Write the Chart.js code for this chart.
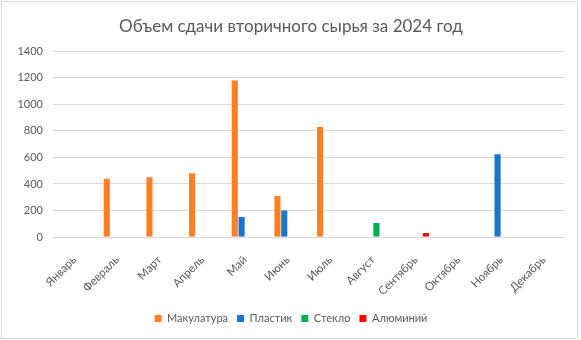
<!DOCTYPE html>
<html>
<head>
<meta charset="utf-8">
<script src="https://cdn.jsdelivr.net/npm/chart.js@4"></script>
<style>
  html, body { margin: 0; padding: 0; background: #fff; }
  #wrap { position: absolute; left: 1px; top: 1px; width: 575px; height: 336px; border: 1px solid #d9d9d9; }
  canvas { display: block; }
</style>
</head>
<body>
<div id="wrap"><canvas id="chart" width="575" height="336"></canvas></div>
<script>
const months = ["Январь", "Февраль", "Март", "Апрель", "Май", "Июнь", "Июль", "Август", "Сентябрь", "Октябрь", "Ноябрь", "Декабрь"];
const paper    = [null, 440, 450, 480, 1180, 310, 830, null, null, null, null, null];
const plastic  = [null, null, null, null, 150, 200, null, null, null, null, 625, null];
const glass    = [null, null, null, null, null, null, null, 105, null, null, null, null];
const aluminum = [null, null, null, null, null, null, null, null, 30, null, null, null];
const yTicks = [0, 200, 400, 600, 800, 1000, 1200, 1400];

const textColor = "#595959";
const fontFamily = "Lato, 'Open Sans', sans-serif";

const ctx = document.getElementById("chart");
const chart = new Chart(ctx, {
    type: "bar",
    data: {
        labels: months,
        datasets: [
            { label: "Макулатура", data: paper, backgroundColor: "#ff7f27" },
            { label: "Пластик", data: plastic, backgroundColor: "#1874cd" },
            { label: "Стекло", data: glass, backgroundColor: "#00b050" },
            { label: "Алюминий", data: aluminum, backgroundColor: "#ff0000" }
        ]
    },
    options: {
        responsive: false,
        animation: false,
        layout: { padding: { left: 15, right: 12, top: 4, bottom: 4 } },
        datasets: {
            bar: { categoryPercentage: 0.64, barPercentage: 0.9 }
        },
        plugins: {
            title: {
                display: true,
                text: "Объем сдачи вторичного сырья за 2024 год",
                color: textColor,
                font: { family: fontFamily, size: 17, weight: "normal" },
                padding: { top: 10, bottom: 15 }
            },
            legend: {
                position: "bottom",
                labels: {
                    color: textColor,
                    font: { family: fontFamily, size: 11 },
                    boxWidth: 7,
                    boxHeight: 7,
                    padding: 9
                }
            },
            tooltip: { enabled: false }
        },
        scales: {
            x: {
                afterFit: axis => { axis.height = 67; },
                grid: { display: false },
                border: { display: false },
                ticks: {
                    color: textColor,
                    font: { family: fontFamily, size: 11.5 },
                    minRotation: 45,
                    maxRotation: 45,
                    autoSkip: false,
                    padding: 8
                }
            },
            y: {
                min: 0,
                max: 1400,
                afterBuildTicks: axis => { axis.ticks = yTicks.map(v => ({ value: v })); },
                afterFit: axis => { axis.width = 36; },
                grid: { color: "#d9d9d9", drawTicks: false },
                border: { display: false },
                ticks: {
                    color: textColor,
                    font: { family: fontFamily, size: 11 },
                    padding: 10,
                    callback: v => String(v)
                }
            }
        }
    }
});
</script>
</body>
</html>
